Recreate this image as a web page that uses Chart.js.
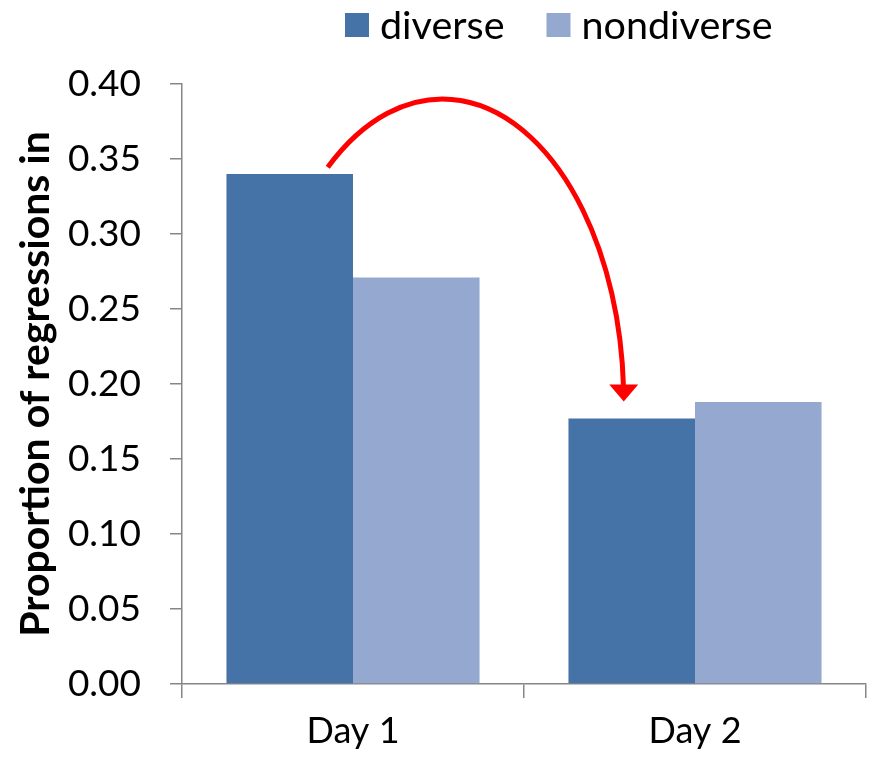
<!DOCTYPE html>
<html>
<head>
<meta charset="utf-8">
<script src="https://cdn.jsdelivr.net/npm/chart.js@4/dist/chart.umd.min.js"></script>
<style>
  html, body { margin: 0; padding: 0; background: #fff; }
  #wrap { width: 877px; height: 761px; }
</style>
</head>
<body>
<div id="wrap"><canvas id="bar-chart" width="877" height="761"></canvas></div>
<script>
const categories = ['Day 1', 'Day 2'];
const seriesNames = ['diverse', 'nondiverse'];
const diverseValues = [0.340, 0.177];
const nondiverseValues = [0.271, 0.188];
const yTitle = 'Proportion of regressions in';

const colors = ['#4673A7', '#95A9D0'];
const axisGray = '#868686';
const FONT = 'Lato';

// legend drawn by hand so it can sit right of centre like the original
const legendPlugin = {
    id: 'customLegend',
    afterDraw(chart) {
        const ctx = chart.ctx;
        ctx.save();
        ctx.font = '39.5px ' + FONT;
        ctx.textBaseline = 'middle';
        let x = 345;
        const yMid = 25;
        chart.data.datasets.forEach(ds => {
            ctx.fillStyle = ds.backgroundColor;
            ctx.fillRect(x, yMid - 12, 24, 24);
            x += 35;
            ctx.fillStyle = '#000';
            ctx.fillText(ds.label, x, yMid + 1);
            x += ctx.measureText(ds.label).width + 42;
        });
        ctx.restore();
    }
};

// curved red arrow from the Day 1 diverse bar to the Day 2 diverse bar
const arrowPlugin = {
    id: 'arrow',
    afterDatasetsDraw(chart) {
        const meta = chart.getDatasetMeta(0);
        const b1 = meta.data[0], b2 = meta.data[1];
        const yScale = chart.scales.y;
        const tipX = b2.x - 8, tipY = b2.y - 17;
        const rx = (b2.x - b1.x) * 0.53;
        const cx = tipX - rx, cy = tipY;
        const ry = cy - yScale.getPixelForValue(0.39);
        const startX = b1.x + 38;
        const c = Math.max(-1, Math.min(1, (startX - cx) / rx));
        const a0 = -Math.acos(c);
        const headLen = 17;
        const a1 = -Math.asin(headLen / ry);
        const ctx = chart.ctx;
        ctx.save();
        ctx.strokeStyle = '#FF0000';
        ctx.fillStyle = '#FF0000';
        ctx.lineWidth = 5;
        ctx.beginPath();
        ctx.ellipse(cx, cy, rx, ry, 0, a0, a1 + 0.01);
        ctx.stroke();
        ctx.beginPath();
        ctx.moveTo(tipX, tipY);
        ctx.lineTo(tipX - 14.5, tipY - headLen);
        ctx.lineTo(tipX + 14.5, tipY - headLen);
        ctx.closePath();
        ctx.fill();
        ctx.restore();
    }
};

const ctx = document.getElementById('bar-chart').getContext('2d');
new Chart(ctx, {
    type: 'bar',
    data: {
        labels: categories,
        datasets: [
            { label: seriesNames[0], data: diverseValues, backgroundColor: colors[0] },
            { label: seriesNames[1], data: nondiverseValues, backgroundColor: colors[1] }
        ]
    },
    options: {
        responsive: false,
        animation: false,
        devicePixelRatio: 1,
        layout: { padding: { top: 84, right: 11, left: 0, bottom: 0 } },
        plugins: {
            legend: { display: false },
            tooltip: { enabled: false }
        },
        datasets: {
            bar: { categoryPercentage: 0.74, barPercentage: 1.0, borderWidth: 0 }
        },
        scales: {
            x: {
                grid: { offset: true, drawOnChartArea: false, tickLength: 14, color: axisGray, lineWidth: 1.5 },
                border: { color: axisGray, width: 1.5 },
                ticks: { color: '#000', font: { family: FONT, size: 36 }, padding: 12 },
                afterFit: s => { s.height = 77; }
            },
            y: {
                min: 0,
                max: 0.40,
                grid: { drawOnChartArea: false, tickLength: 12, color: axisGray, lineWidth: 1.5 },
                border: { color: axisGray, width: 1.5 },
                ticks: {
                    stepSize: 0.05,
                    color: '#000',
                    font: { family: FONT, size: 37 },
                    padding: 29,
                    callback: v => v.toFixed(2)
                },
                title: {
                    display: true,
                    text: yTitle,
                    color: '#000',
                    font: { family: FONT, size: 41, weight: 'bold' },
                    padding: { top: 11, bottom: 0 }
                },
                afterFit: s => { s.width = 182; }
            }
        }
    },
    plugins: [legendPlugin, arrowPlugin]
});
</script>
</body>
</html>
